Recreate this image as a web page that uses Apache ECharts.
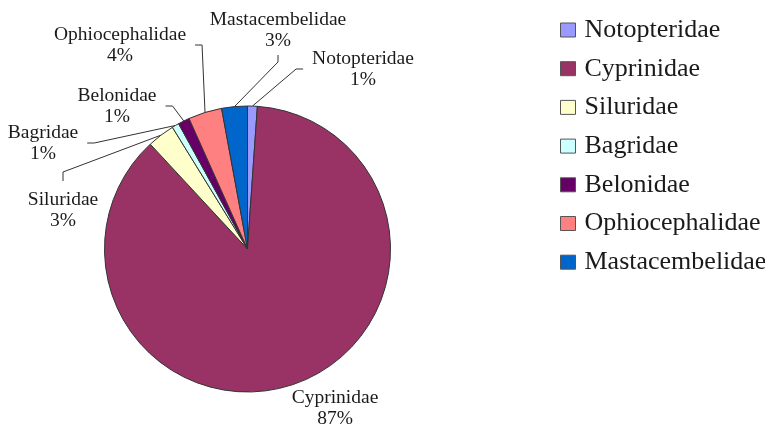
<!DOCTYPE html>
<html>
<head>
<meta charset="utf-8">
<script src="https://cdn.jsdelivr.net/npm/echarts@6/dist/echarts.min.js"></script>
<style>
html,body{margin:0;padding:0;background:#fff;}
#chart{width:765px;height:425px;}
</style>
</head>
<body>
<div id="chart"></div>
<script>
// Data (share of each family, %)
const categories = ['Notopteridae', 'Cyprinidae', 'Siluridae', 'Bagridae', 'Belonidae', 'Ophiocephalidae', 'Mastacembelidae'];
const shares = [1.1, 87.0, 3.1, 0.8, 1.3, 3.8, 2.9];

// Styling / placement (kept separate from data)
const colors = ['#9999FF', '#993366', '#FFFFCC', '#CCFFFF', '#660066', '#FF8080', '#0066CC'];
const labelCenters = {
  'Notopteridae': [363, 69],
  'Cyprinidae': [335, 408],
  'Siluridae': [63, 210],
  'Bagridae': [43, 143],
  'Belonidae': [117, 106],
  'Ophiocephalidae': [120, 45],
  'Mastacembelidae': [278, 30]
};
// leader-line elbow for labels whose line leaves from the top of the text
const lineElbows = {
  'Siluridae': [[63, 172], [63, 181]]
};

const chart = echarts.init(document.getElementById('chart'), null, {renderer: 'canvas'});
const data = categories.map((name, i) => {
  const item = {name: name, value: shares[i], itemStyle: {color: colors[i]}};
  if (name === 'Cyprinidae') item.labelLine = {show: false};
  return item;
});

chart.setOption({
  backgroundColor: '#ffffff',
  animation: false,
  legend: {
    orient: 'vertical',
    left: 555,
    top: 12,
    itemWidth: 15,
    itemHeight: 14,
    itemGap: 12.7,
    icon: 'rect',
    data: categories,
    itemStyle: {borderColor: '#555', borderWidth: 1},
    textStyle: {
      fontFamily: 'Liberation Serif',
      fontSize: 26,
      lineHeight: 26,
      color: '#1a1a1a',
      padding: [0, 0, 0, 4]
    }
  },
  series: [{
    type: 'pie',
    center: [247.5, 249],
    radius: 143,
    startAngle: 90,
    clockwise: true,
    avoidLabelOverlap: false,
    data: data,
    itemStyle: {borderColor: '#333', borderWidth: 1},
    emphasis: {disabled: true},
    label: {
      show: true,
      position: 'outside',
      fontFamily: 'Liberation Serif',
      fontSize: 19.5,
      lineHeight: 21,
      color: '#1a1a1a',
      align: 'center',
      padding: [4, 9],
      formatter: p => p.name + '\n' + Math.round(p.percent) + '%'
    },
    labelLine: {
      show: true,
      length: 10,
      length2: 7,
      lineStyle: {color: '#333', width: 1}
    },
    labelLayout: function (params) {
      const name = categories[params.dataIndex];
      const c = labelCenters[name];
      const out = {x: c[0], y: c[1], align: 'center', verticalAlign: 'middle'};
      const elbow = lineElbows[name];
      if (elbow && params.labelLinePoints && params.labelLinePoints[0]) {
        out.labelLinePoints = [params.labelLinePoints[0].slice(), elbow[0], elbow[1]];
      }
      return out;
    }
  }]
});
</script>
</body>
</html>
